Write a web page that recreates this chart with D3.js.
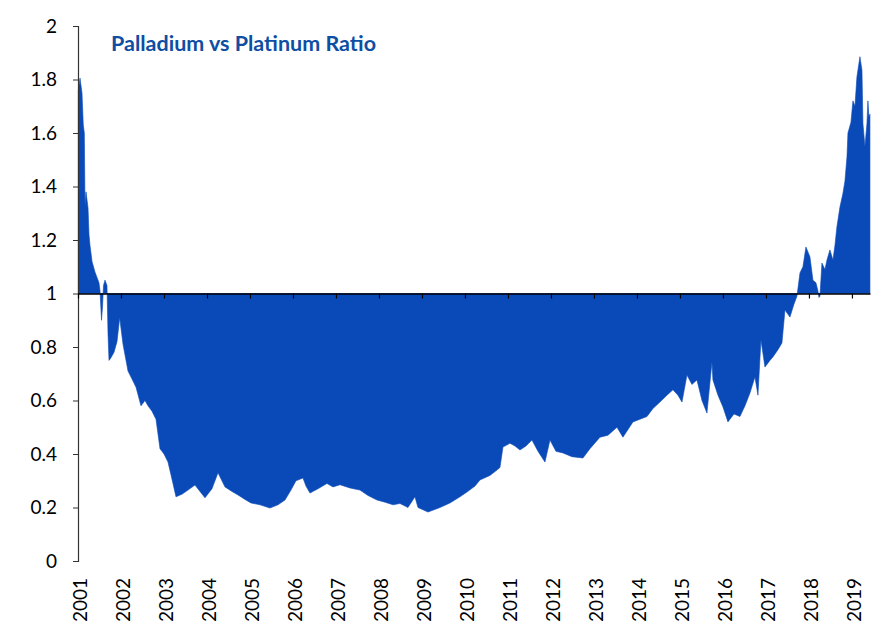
<!DOCTYPE html>
<html>
<head>
<meta charset="utf-8">
<script src="https://cdn.jsdelivr.net/npm/d3@7"></script>
<style>
  body { margin: 0; background: #fff; }
  text { font-family: Lato, "Open Sans", sans-serif; }
</style>
</head>
<body>
<div id="chart"></div>
<script>
// decimal year of each point
const years = [
  2001.007, 2001.047, 2001.093, 2001.123, 2001.147, 2001.163, 2001.186, 2001.233, 2001.256, 2001.279,
  2001.326, 2001.395, 2001.442, 2001.488, 2001.512, 2001.547, 2001.570, 2001.593, 2001.628, 2001.674,
  2001.698, 2001.721, 2001.767, 2001.837, 2001.907, 2001.970, 2002.000, 2002.047, 2002.163, 2002.256,
  2002.349, 2002.465, 2002.558, 2002.628, 2002.721, 2002.814, 2002.907, 2003.000, 2003.093, 2003.209,
  2003.279, 2003.419, 2003.558, 2003.721, 2003.837, 2003.953, 2004.116, 2004.256, 2004.419, 2004.581,
  2004.721, 2004.884, 2005.023, 2005.233, 2005.465, 2005.651, 2005.814, 2005.953, 2006.070, 2006.233,
  2006.302, 2006.395, 2006.581, 2006.791, 2006.930, 2007.093, 2007.326, 2007.558, 2007.744, 2007.953,
  2008.140, 2008.326, 2008.488, 2008.674, 2008.837, 2008.907, 2009.140, 2009.419, 2009.651, 2009.884,
  2010.047, 2010.233, 2010.349, 2010.581, 2010.744, 2010.814, 2010.884, 2011.047, 2011.163, 2011.279,
  2011.419, 2011.558, 2011.698, 2011.860, 2011.977, 2012.116, 2012.279, 2012.488, 2012.744, 2012.907,
  2013.140, 2013.326, 2013.535, 2013.674, 2013.907, 2014.070, 2014.233, 2014.372, 2014.535, 2014.698,
  2014.837, 2014.953, 2015.047, 2015.163, 2015.279, 2015.395, 2015.512, 2015.628, 2015.744, 2015.767,
  2015.884, 2016.000, 2016.116, 2016.256, 2016.395, 2016.512, 2016.628, 2016.744, 2016.814, 2016.884,
  2016.977, 2017.093, 2017.163, 2017.279, 2017.372, 2017.442, 2017.558, 2017.651, 2017.721, 2017.791,
  2017.860, 2017.930, 2018.023, 2018.093, 2018.163, 2018.209, 2018.233, 2018.256, 2018.302, 2018.372,
  2018.419, 2018.488, 2018.558, 2018.605, 2018.651, 2018.721, 2018.791, 2018.837, 2018.884, 2018.907,
  2018.977, 2019.023, 2019.070, 2019.116, 2019.186, 2019.233, 2019.256, 2019.302, 2019.349, 2019.372,
  2019.395, 2019.419
];

// palladium / platinum price ratio
const ratio = [
  1.76, 1.805, 1.75, 1.63, 1.6, 1.33, 1.38, 1.32, 1.22, 1.18,
  1.12, 1.08, 1.06, 1.04, 1.01, 0.90, 0.95, 1.03, 1.05, 1.03,
  0.85, 0.75, 0.76, 0.78, 0.82, 0.91, 0.87, 0.81, 0.71, 0.68,
  0.65, 0.58, 0.60, 0.58, 0.56, 0.53, 0.42, 0.40, 0.37, 0.29,
  0.24, 0.25, 0.265, 0.284, 0.26, 0.236, 0.27, 0.33, 0.277, 0.26,
  0.247, 0.23, 0.217, 0.21, 0.198, 0.21, 0.228, 0.265, 0.30, 0.31,
  0.28, 0.254, 0.27, 0.29, 0.277, 0.285, 0.273, 0.265, 0.245, 0.228,
  0.22, 0.21, 0.215, 0.20, 0.24, 0.20, 0.183, 0.20, 0.217, 0.24,
  0.258, 0.28, 0.303, 0.32, 0.34, 0.35, 0.426, 0.44, 0.43, 0.415,
  0.43, 0.452, 0.41, 0.37, 0.452, 0.41, 0.404, 0.39, 0.385, 0.42,
  0.463, 0.47, 0.50, 0.463, 0.52, 0.53, 0.54, 0.57, 0.594, 0.62,
  0.64, 0.62, 0.594, 0.695, 0.66, 0.677, 0.60, 0.553, 0.744, 0.677,
  0.62, 0.576, 0.52, 0.55, 0.54, 0.58, 0.628, 0.688, 0.62, 0.826,
  0.725, 0.75, 0.763, 0.79, 0.815, 0.938, 0.912, 0.96, 0.99, 1.077,
  1.10, 1.174, 1.137, 1.05, 1.04, 1.01, 0.985, 0.99, 1.114, 1.09,
  1.125, 1.163, 1.125, 1.18, 1.25, 1.323, 1.375, 1.42, 1.51, 1.60,
  1.64, 1.72, 1.70, 1.81, 1.885, 1.835, 1.635, 1.55, 1.635, 1.72,
  1.66, 1.67
];

const yearTicks = d3.range(2001, 2020);
const ratioTicks = [0, 0.2, 0.4, 0.6, 0.8, 1, 1.2, 1.4, 1.6, 1.8, 2];
const chartTitle = "Palladium vs Platinum Ratio";

const width = 892, height = 639;
const margin = {top: 26, right: 22, bottom: 78, left: 78};
const fillColor = "#0a4ab8";

const svg = d3.select("#chart").append("svg")
    .attr("width", width)
    .attr("height", height);

let data = years.map((y, i) => ({year: y, value: ratio[i]}));

let xScale = d3.scaleLinear()
    .domain([2001, 2019.42])
    .range([margin.left, width - margin.right]);

let yScale = d3.scaleLinear()
    .domain([0, 2])
    .range([height - margin.bottom, margin.top]);

// area between the parity line (1) and the ratio
let area = d3.area()
    .x(d => xScale(d.year))
    .y0(yScale(1))
    .y1(d => yScale(d.value));

svg.append("path")
    .datum(data)
    .attr("fill", fillColor)
    .attr("stroke", fillColor)
    .attr("stroke-width", 0.6)
    .attr("d", area);

// y axis
let yAxis = d3.axisLeft(yScale)
    .tickValues(ratioTicks)
    .tickSize(5)
    .tickPadding(16)
    .tickFormat(d => d3.format("~g")(d));

let yG = svg.append("g")
    .attr("transform", `translate(${margin.left},0)`)
    .call(yAxis);
yG.select(".domain").attr("stroke", "#333").attr("stroke-width", 1.2);
yG.selectAll(".tick line").attr("stroke", "#333");
yG.selectAll(".tick text")
    .attr("fill", "#000")
    .style("font-size", "19px")
    .style("font-family", "Lato, sans-serif");

// x axis crosses at 1, labels sit low under the plot
let xAxis = d3.axisBottom(xScale)
    .tickValues(yearTicks)
    .tickSize(5)
    .tickSizeOuter(0)
    .tickFormat("");

let xG = svg.append("g")
    .attr("transform", `translate(0,${yScale(1)})`)
    .call(xAxis);
xG.select(".domain").attr("stroke", "#000").attr("stroke-width", 1.5);
xG.selectAll(".tick line").attr("stroke", "#000").attr("stroke-width", 1.2);

svg.append("g")
    .selectAll("text")
    .data(yearTicks)
    .join("text")
    .attr("transform", d => `translate(${xScale(d) + 2},578) rotate(-90)`)
    .attr("text-anchor", "end")
    .attr("dy", "0.36em")
    .style("font-size", "19px")
    .attr("fill", "#000")
    .text(d => d);

// title
svg.append("text")
    .attr("x", 111)
    .attr("y", 51)
    .attr("fill", "#0e4ea3")
    .style("font-weight", "bold")
    .style("font-size", "21px")
    .attr("textLength", 265)
    .attr("lengthAdjust", "spacingAndGlyphs")
    .text(chartTitle);
</script>
</body>
</html>
